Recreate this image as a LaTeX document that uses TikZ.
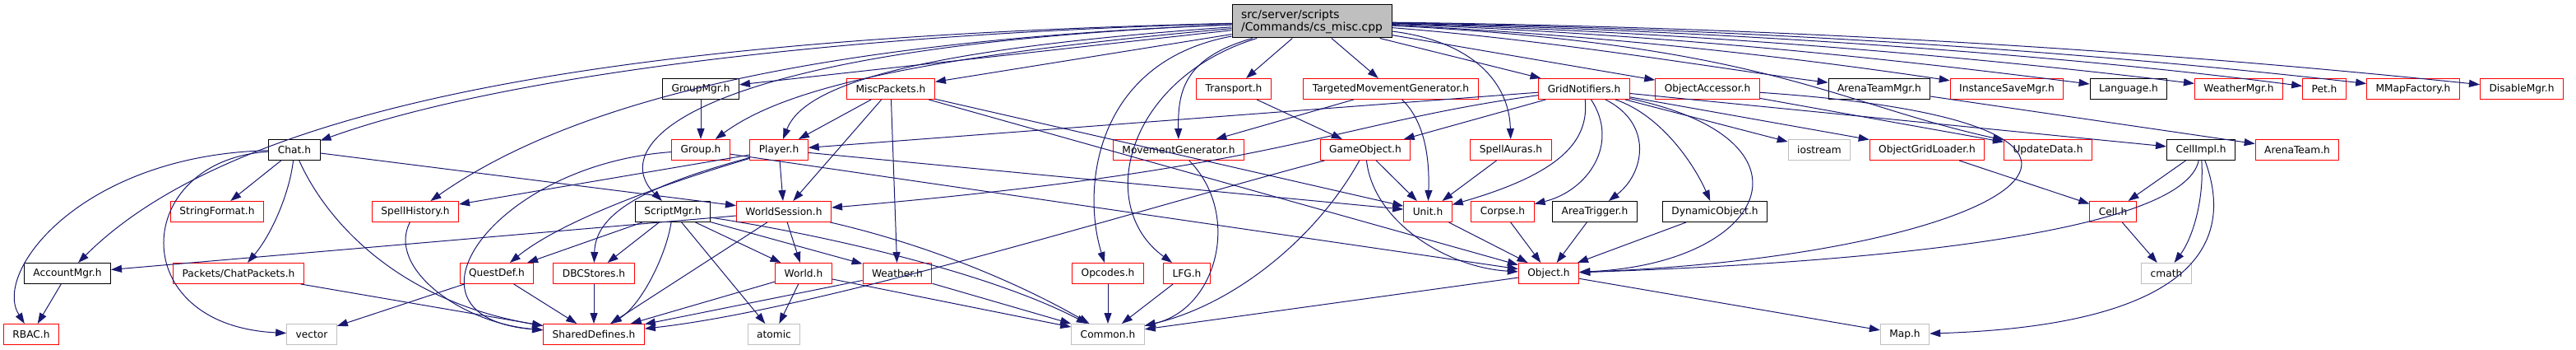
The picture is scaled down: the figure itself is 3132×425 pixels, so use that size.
\documentclass[tikz,border=0pt]{standalone}
\usepackage{fontspec}
\setmainfont{DejaVu Sans}
\usetikzlibrary{arrows.meta}
\definecolor{edgeblue}{RGB}{25,25,112}
\definecolor{leafgray}{RGB}{191,191,191}

\begin{document}
\begin{tikzpicture}[x=1pt,y=-1pt]
\tikzstyle{dep}= [->,>={Triangle[length=13pt,width=9pt]},draw=edgeblue,line width=1pt]
\tikzstyle{hdr}= [rectangle,draw,line width=1pt,minimum height=25pt,inner xsep=11pt,inner ysep=0pt,font=\fontsize{12.2}{15}\selectfont]
\tikzstyle{known}= [hdr,draw=black]
\tikzstyle{trunc}= [hdr,draw=red]
\tikzstyle{sys}= [hdr,draw=leafgray]
\tikzstyle{rootfile}= [hdr,draw=black,fill=leafgray,align=left,minimum width=194pt,minimum height=40pt,font=\fontsize{13.9}{15}\selectfont]

\useasboundingbox (0,0) rectangle (3132,425);

\path
	(1595,26) node[rootfile] (root) {src/server/scripts\\/Commands/cs\_misc.cpp}
	% first row
	( 852,108) node[known] (groupmgr) {GroupMgr.h}
	(1083,108) node[trunc] (miscpk) {MiscPackets.h}
	(1500,108) node[trunc] (transport) {Transport.h}
	(1691,108) node[trunc] (tmg) {TargetedMovementGenerator.h}
	(1926,108) node[trunc] (gridn) {GridNotifiers.h}
	(2076,108) node[trunc] (objacc) {ObjectAccessor.h}
	(2285,108) node[known] (atmgr) {ArenaTeamMgr.h}
	(2440,108) node[trunc] (isavemgr) {InstanceSaveMgr.h}
	(2588,108) node[known] (language) {Language.h}
	(2722,108) node[trunc] (weathermgr) {WeatherMgr.h}
	(2826,108) node[trunc] (pet) {Pet.h}
	(2934,108) node[trunc] (mmap) {MMapFactory.h}
	(3066,108) node[trunc] (disable) {DisableMgr.h}
	% second row
	( 358,182) node[known] (chat) {Chat.h}
	( 852,182) node[trunc] (group) {Group.h}
	( 947,182) node[trunc] (player) {Player.h}
	(1433,182) node[trunc] (movegen) {MovementGenerator.h}
	(1660,182) node[trunc] (gameobj) {GameObject.h}
	(1837,182) node[trunc] (spellauras) {SpellAuras.h}
	(2212,182) node[sys] (iostream) {iostream}
	(2343,182) node[trunc] (ogl) {ObjectGridLoader.h}
	(2490,182) node[trunc] (updatedata) {UpdateData.h}
	(2676,182) node[known] (cellimpl) {CellImpl.h}
	(2793,182) node[trunc] (arenateam) {ArenaTeam.h}
	% third row
	( 264,257) node[trunc] (stringfmt) {StringFormat.h}
	( 505,257) node[trunc] (spellhist) {SpellHistory.h}
	( 818,257) node[known] (scriptmgr) {ScriptMgr.h}
	( 953,257) node[trunc] (worldsess) {WorldSession.h}
	(1736,257) node[trunc] (unit) {Unit.h}
	(1827,257) node[trunc] (corpse) {Corpse.h}
	(1939,257) node[known] (areatrig) {AreaTrigger.h}
	(2085,257) node[known] (dynobj) {DynamicObject.h}
	(2569,257) node[trunc] (cell) {Cell.h}
	% fourth row
	(  82,332) node[known] (acct) {AccountMgr.h}
	( 290,332) node[trunc] (chatpk) {Packets/ChatPackets.h}
	( 604,332) node[trunc] (questdef) {QuestDef.h}
	( 722,332) node[trunc] (dbc) {DBCStores.h}
	( 977,332) node[trunc] (world) {World.h}
	(1091,332) node[trunc] (weather) {Weather.h}
	(1347,332) node[trunc] (opcodes) {Opcodes.h}
	(1443,332) node[trunc] (lfg) {LFG.h}
	(1883,332) node[trunc] (object) {Object.h}
	(2634,332) node[sys] (cmath) {cmath}
	% last row
	(  38,406) node[trunc] (rbac) {RBAC.h}
	( 379,406) node[sys] (vector) {vector}
	( 722,406) node[trunc] (shared) {SharedDefines.h}
	( 941,406) node[sys] (atomic) {atomic}
	(1347,406) node[sys] (common) {Common.h}
	(2316,406) node[sys] (map) {Map.h}
;

% includes of cs_misc.cpp
\draw[dep] (root) .. controls (1000,42) and (600,95) .. (chat);
\draw[dep] (root) .. controls (800,45) and (300,115) .. (acct);
\draw[dep] (root) .. controls (1000,50) and (700,120) .. (spellhist);
\draw[dep] (root) .. controls (820,58) and (740,180) .. (scriptmgr);
\draw[dep] (root) -- (groupmgr);
\draw[dep] (root) .. controls (1100,70) and (950,110) .. (group);
\draw[dep] (root) .. controls (1080,62) and (975,110) .. (player);
\draw[dep] (root) -- (miscpk);
\draw[dep] (root) .. controls (1440,70) and (1432,110) .. (movegen);
\draw[dep] (root) .. controls (1330,75) and (1315,230) .. (opcodes);
\draw[dep] (root) .. controls (1370,95) and (1330,250) .. (lfg);
\draw[dep] (root) -- (transport);
\draw[dep] (root) -- (tmg);
\draw[dep] (root) -- (gridn);
\draw[dep] (root) .. controls (1790,50) and (1835,100) .. (spellauras);
\draw[dep] (root) -- (objacc);
\draw[dep] (root) .. controls (1900,50) and (2100,85) .. (atmgr);
\draw[dep] (root) .. controls (2000,45) and (2250,80) .. (isavemgr);
\draw[dep] (root) .. controls (2050,42) and (2350,78) .. (language);
\draw[dep] (root) .. controls (2100,40) and (2450,75) .. (weathermgr);
\draw[dep] (root) .. controls (2150,38) and (2550,72) .. (pet);
\draw[dep] (root) .. controls (2200,36) and (2600,70) .. (mmap);
\draw[dep] (root) .. controls (2250,34) and (2700,70) .. (disable);
\draw[dep] (root) .. controls (2150,55) and (2230,125) .. (updatedata);

% Chat.h and the left part
\draw[dep] (chat) -- (stringfmt);
\draw[dep] (chat) .. controls (352,235) and (330,285) .. (chatpk);
\draw[dep] (chat) .. controls (395,265) and (480,365) .. (shared);
\draw[dep] (chat) .. controls (160,195) and (150,395) .. (vector);
\draw[dep] (chat) .. controls (100,188) and (-10,330) .. (rbac);
\draw[dep] (chat) -- (worldsess);
\draw[dep] (acct) -- (rbac);
\draw[dep] (chatpk) -- (shared);
\draw[dep] (spellhist) .. controls (470,325) and (560,392) .. (shared);
\draw[dep] (groupmgr) -- (group);
\draw[dep] (group) .. controls (600,200) and (470,385) .. (shared);
\draw[dep] (group) -- (object);
\draw[dep] (player) -- (spellhist);
\draw[dep] (player) -- (worldsess);
\draw[dep] (player) .. controls (800,225) and (680,270) .. (questdef);
\draw[dep] (player) .. controls (775,228) and (724,262) .. (dbc);
\draw[dep] (player) -- (unit);
\draw[dep] (miscpk) -- (player);
\draw[dep] (miscpk) -- (worldsess);
\draw[dep] (miscpk) -- (weather);
\draw[dep] (miscpk) -- (unit);
\draw[dep] (miscpk) -- (object);

% ScriptMgr.h, WorldSession.h
\draw[dep] (scriptmgr) -- (questdef);
\draw[dep] (scriptmgr) -- (dbc);
\draw[dep] (scriptmgr) .. controls (810,310) and (780,370) .. (shared);
\draw[dep] (scriptmgr) -- (atomic);
\draw[dep] (scriptmgr) -- (world);
\draw[dep] (scriptmgr) -- (weather);
\draw[dep] (scriptmgr) .. controls (1000,285) and (1200,330) .. (common);
\draw[dep] (worldsess) -- (acct);
\draw[dep] (worldsess) -- (world);
\draw[dep] (worldsess) -- (shared);
\draw[dep] (worldsess) .. controls (1140,300) and (1250,350) .. (common);
\draw[dep] (questdef) -- (shared);
\draw[dep] (questdef) -- (vector);
\draw[dep] (dbc) -- (shared);
\draw[dep] (world) -- (shared);
\draw[dep] (world) -- (atomic);
\draw[dep] (world) -- (common);
\draw[dep] (weather) -- (shared);
\draw[dep] (weather) -- (common);
\draw[dep] (opcodes) -- (common);
\draw[dep] (lfg) -- (common);
\draw[dep] (movegen) .. controls (1510,260) and (1480,375) .. (common);

% movement, game objects
\draw[dep] (transport) -- (gameobj);
\draw[dep] (tmg) -- (movegen);
\draw[dep] (tmg) .. controls (1735,150) and (1738,200) .. (unit);
\draw[dep] (gameobj) -- (unit);
\draw[dep] (gameobj) .. controls (1670,270) and (1760,325) .. (object);
\draw[dep] (gameobj) .. controls (1600,290) and (1500,370) .. (common);
\draw[dep] (gameobj) .. controls (1400,250) and (1000,375) .. (shared);
\draw[dep] (spellauras) -- (unit);

% GridNotifiers.h
\draw[dep] (gridn) -- (player);
\draw[dep] (gridn) .. controls (1620,150) and (1560,205) .. (worldsess);
\draw[dep] (gridn) -- (gameobj);
\draw[dep] (gridn) .. controls (1932,170) and (1900,210) .. (unit);
\draw[dep] (gridn) .. controls (1970,175) and (1930,232) .. (corpse);
\draw[dep] (gridn) .. controls (2010,150) and (2000,210) .. (areatrig);
\draw[dep] (gridn) .. controls (2020,140) and (2060,200) .. (dynobj);
\draw[dep] (gridn) -- (iostream);
\draw[dep] (gridn) -- (ogl);
\draw[dep] (gridn) -- (cellimpl);
\draw[dep] (gridn) .. controls (2220,170) and (2150,320) .. (object);
\draw[dep] (objacc) -- (updatedata);
\draw[dep] (objacc) .. controls (2700,150) and (2450,310) .. (object);
\draw[dep] (atmgr) -- (arenateam);

% cells and objects
\draw[dep] (ogl) -- (cell);
\draw[dep] (cellimpl) -- (cell);
\draw[dep] (cellimpl) .. controls (2680,245) and (2665,290) .. (cmath);
\draw[dep] (cellimpl) .. controls (2655,280) and (2300,318) .. (object);
\draw[dep] (cellimpl) .. controls (2720,300) and (2660,395) .. (map);
\draw[dep] (cell) -- (cmath);
\draw[dep] (unit) -- (object);
\draw[dep] (corpse) -- (object);
\draw[dep] (areatrig) -- (object);
\draw[dep] (dynobj) -- (object);
\draw[dep] (object) -- (common);
\draw[dep] (object) -- (map);
\end{tikzpicture}
\end{document}
